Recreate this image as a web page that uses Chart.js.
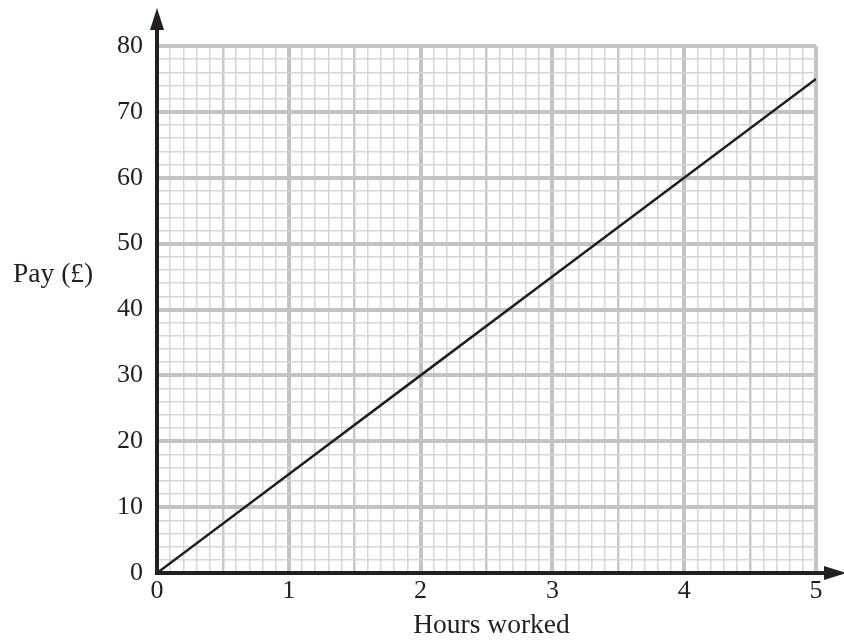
<!DOCTYPE html>
<html>
<head>
<meta charset="utf-8">
<script src="https://cdn.jsdelivr.net/npm/chart.js@4"></script>
<style>
  html, body { margin: 0; padding: 0; background: #fff; }
  canvas { display: block; }
</style>
</head>
<body>
<canvas id="payChart" width="844" height="643" style="width:844px;height:643px"></canvas>
<script>
// data
const hours = [0, 1, 2, 3, 4, 5];
const pay = [0, 15, 30, 45, 60, 75];
const xTickLabels = ['0', '1', '2', '3', '4', '5'];
const yTickLabels = ['0', '10', '20', '30', '40', '50', '60', '70', '80'];
const xTitle = 'Hours worked';
const yTitle = 'Pay (£)';

const ink = '#231f20';
const font = { family: "'Liberation Serif', 'Times New Roman', serif", size: 26 };
const titleSize = 27.5;

const near = (v, t) => Math.abs(v - t) < 1e-6;

// grid styling: major / half / minor lines
function xGridWidth(v) {
    if (near(v, Math.round(v))) return 4;
    if (near(v * 2, Math.round(v * 2))) return 2.5;
    return 1.5;
}
function xGridColor(v) {
    if (near(v, Math.round(v))) return '#c3c3c7';
    if (near(v * 2, Math.round(v * 2))) return '#c9c9cc';
    return '#d6d6d8';
}
function yIsMajor(v) { return near(v / 10, Math.round(v / 10)); }

const axesPlugin = {
    id: 'axesPlugin',
    afterDraw(chart) {
        const ctx = chart.ctx;
        const a = chart.chartArea;
        const x0 = chart.scales.x.getPixelForValue(0);
        const y0 = chart.scales.y.getPixelForValue(0);
        ctx.save();
        ctx.strokeStyle = ink;
        ctx.fillStyle = ink;
        ctx.lineWidth = 4;
        // y axis
        ctx.beginPath();
        ctx.moveTo(x0, y0 + 2);
        ctx.lineTo(x0, 24);
        ctx.stroke();
        ctx.beginPath();
        ctx.moveTo(x0, 8);
        ctx.lineTo(x0 - 7, 30);
        ctx.lineTo(x0 + 7, 30);
        ctx.closePath();
        ctx.fill();
        // x axis
        ctx.beginPath();
        ctx.moveTo(x0 - 2, y0);
        ctx.lineTo(828, y0);
        ctx.stroke();
        ctx.beginPath();
        ctx.moveTo(846, y0);
        ctx.lineTo(824, y0 - 7);
        ctx.lineTo(824, y0 + 7);
        ctx.closePath();
        ctx.fill();
        // titles
        ctx.font = titleSize + 'px ' + font.family;
        ctx.textBaseline = 'middle';
        ctx.textAlign = 'left';
        ctx.fillText(yTitle, 13, 275);
        ctx.textAlign = 'center';
        ctx.fillText(xTitle, (a.left + a.right) / 2 + 5, 626);
        ctx.restore();
    }
};

new Chart(document.getElementById('payChart'), {
    type: 'line',
    data: {
        datasets: [{
            data: hours.map((h, i) => ({ x: h, y: pay[i] })),
            borderColor: ink,
            borderWidth: 2.5,
            pointRadius: 0,
            fill: false,
            tension: 0
        }]
    },
    options: {
        responsive: false,
        animation: false,
        layout: { padding: { top: 46, right: 28, left: 0, bottom: 0 } },
        plugins: {
            legend: { display: false },
            tooltip: { enabled: false }
        },
        scales: {
            x: {
                type: 'linear',
                min: 0,
                max: 5,
                afterFit: s => { s.height = 70; },
                border: { display: false },
                grid: {
                    drawTicks: false,
                    lineWidth: c => xGridWidth(c.tick.value),
                    color: c => xGridColor(c.tick.value)
                },
                ticks: {
                    stepSize: 0.1,
                    maxTicksLimit: 100,
                    autoSkip: false,
                    maxRotation: 0,
                    padding: 3,
                    color: ink,
                    font: font,
                    callback: v => {
                        const i = hours.findIndex(h => near(h, v));
                        return i >= 0 ? xTickLabels[i] : '';
                    }
                }
            },
            y: {
                type: 'linear',
                min: 0,
                max: 80,
                afterFit: s => { s.width = 157; },
                border: { display: false },
                grid: {
                    drawTicks: false,
                    lineWidth: c => yIsMajor(c.tick.value) ? 4 : 1.5,
                    color: c => yIsMajor(c.tick.value) ? '#c3c3c7' : '#d6d6d8'
                },
                ticks: {
                    stepSize: 2,
                    maxTicksLimit: 100,
                    autoSkip: false,
                    padding: 14,
                    color: ink,
                    font: font,
                    callback: v => yIsMajor(v) ? yTickLabels[Math.round(v / 10)] : ''
                }
            }
        }
    },
    plugins: [axesPlugin]
});
</script>
</body>
</html>
